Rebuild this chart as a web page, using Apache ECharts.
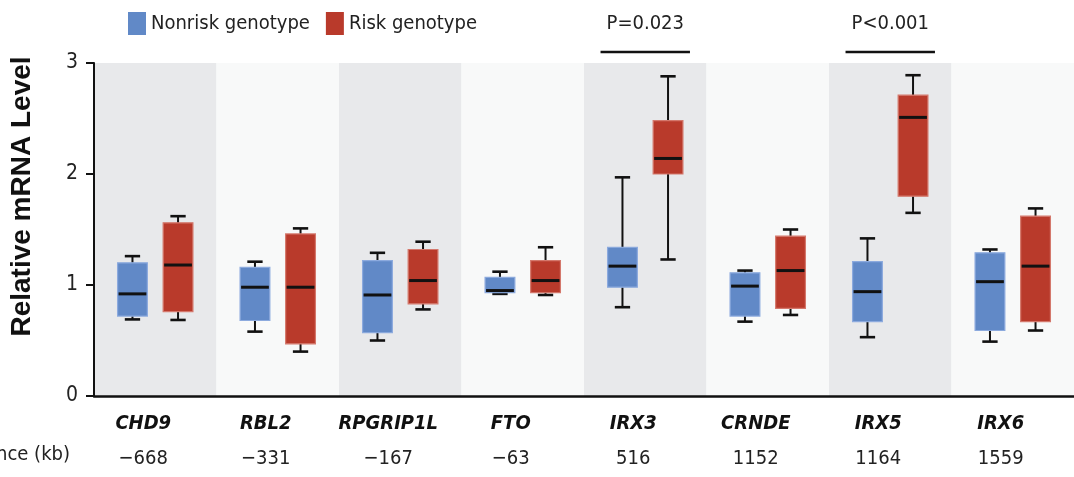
<!DOCTYPE html>
<html>
<head>
<meta charset="utf-8">
<script src="https://cdn.jsdelivr.net/npm/echarts@6/dist/echarts.min.js"></script>
<style>
  html, body { margin: 0; padding: 0; background: #fff; }
  #chart { width: 1074px; height: 477px; }
</style>
</head>
<body>
<div id="chart"></div>
<script>
  // genes in genomic order, distance from the risk SNP in kb
  const genes = ['CHD9', 'RBL2', 'RPGRIP1L', 'FTO', 'IRX3', 'CRNDE', 'IRX5', 'IRX6'];
  const distances = ['\u2212668', '\u2212331', '\u2212167', '\u221263', '516', '1152', '1164', '1559'];

  // [min, q1, median, q3, max]
  const nonrisk = [
    [0.69, 0.72, 0.92, 1.20, 1.26],
    [0.58, 0.68, 0.98, 1.16, 1.21],
    [0.50, 0.57, 0.91, 1.22, 1.29],
    [0.92, 0.93, 0.95, 1.07, 1.12],
    [0.80, 0.98, 1.17, 1.34, 1.97],
    [0.67, 0.72, 0.99, 1.11, 1.13],
    [0.53, 0.67, 0.94, 1.21, 1.42],
    [0.49, 0.59, 1.03, 1.29, 1.32]
  ];
  const risk = [
    [0.685, 0.76, 1.18, 1.56, 1.62],
    [0.40, 0.47, 0.98, 1.46, 1.51],
    [0.78, 0.83, 1.04, 1.32, 1.39],
    [0.91, 0.93, 1.04, 1.22, 1.34],
    [1.23, 2.00, 2.14, 2.48, 2.88],
    [0.73, 0.79, 1.13, 1.44, 1.50],
    [1.65, 1.80, 2.51, 2.71, 2.89],
    [0.59, 0.67, 1.17, 1.62, 1.69]
  ];

  const pGenes = ['IRX3', 'IRX5'];
  const pLabels = ['P=0.023', 'P<0.001'];

  const yTicks = [0, 1, 2, 3];

  const narrow = '"DejaVu Sans Condensed", "Liberation Sans", sans-serif';
  const BLUE = '#6189c7';
  const RED = '#b93a2b';

  function boxRenderer(shift, fill, edge) {
    return function (params, api) {
      const band = api.size([1, 0])[0];
      const x = api.coord([api.value(0), 0])[0] + band * shift;
      const w = band * 0.243;
      const cap = band * 0.125;
      const y = [1, 2, 3, 4, 5].map(d => api.coord([0, api.value(d)])[1]);
      const whisk = { stroke: '#111', lineWidth: 2 };
      const capStyle = { stroke: '#111', lineWidth: 2.6 };
      return {
        type: 'group',
        children: [
          { type: 'line', shape: { x1: x, y1: y[4], x2: x, y2: y[3] }, style: whisk },
          { type: 'line', shape: { x1: x, y1: y[0], x2: x, y2: y[1] }, style: whisk },
          { type: 'line', shape: { x1: x - cap / 2, y1: y[4], x2: x + cap / 2, y2: y[4] }, style: capStyle },
          { type: 'line', shape: { x1: x - cap / 2, y1: y[0], x2: x + cap / 2, y2: y[0] }, style: capStyle },
          { type: 'rect', shape: { x: x - w / 2, y: y[3], width: w, height: y[1] - y[3] },
            style: { fill: fill, stroke: edge, lineWidth: 1.2 } },
          { type: 'line', shape: { x1: x - w / 2 + 1, y1: y[2], x2: x + w / 2 - 1, y2: y[2] },
            style: { stroke: '#111', lineWidth: 3 } }
        ]
      };
    };
  }

  const chart = echarts.init(document.getElementById('chart'), null, { renderer: 'canvas' });

  chart.setOption({
    animation: false,
    backgroundColor: '#fff',
    grid: { left: 93, top: 63, width: 988, bottom: 81, containLabel: false },
    legend: {
      left: 128, top: 12, padding: 0,
      itemWidth: 18, itemHeight: 23, itemGap: 16,
      icon: 'rect',
      data: ['Nonrisk genotype', 'Risk genotype'],
      textStyle: { fontFamily: narrow, fontSize: 20, color: '#222' }
    },
    xAxis: {
      type: 'category',
      data: genes,
      axisLine: { lineStyle: { color: '#111', width: 2.5 } },
      axisTick: { show: false },
      splitArea: { show: true, interval: 0, areaStyle: { color: ['#e8e9eb', '#f8f9f9'] } },
      axisLabel: {
        interval: 0,
        margin: 10,
        padding: [0, 24, 0, 0],
        formatter: (v, i) => '{g|' + v + '}\n{d|' + distances[i] + '}',
        rich: {
          g: { fontFamily: narrow, fontSize: 20, fontWeight: 'bold', fontStyle: 'italic', color: '#111', lineHeight: 35 },
          d: { fontFamily: narrow, fontSize: 20, color: '#222', lineHeight: 35 }
        }
      }
    },
    yAxis: {
      type: 'value',
      min: yTicks[0], max: yTicks[yTicks.length - 1], interval: 1,
      name: 'Relative mRNA Level',
      nameLocation: 'middle',
      nameGap: 58,
      nameTextStyle: {
        fontFamily: '"Liberation Sans", Arial, sans-serif',
        fontSize: 28, fontWeight: 'bold', color: '#111',
        padding: [0, 0, 0, 66]
      },
      axisLine: { show: true, lineStyle: { color: '#111', width: 2 } },
      axisTick: { show: true, length: 8, lineStyle: { color: '#111', width: 2 } },
      axisLabel: { margin: 16, fontFamily: narrow, fontSize: 21, color: '#222' },
      splitLine: { show: false }
    },
    graphic: [
      {
        type: 'text', right: 1074 - 70, top: 445,
        style: { text: 'Distance (kb)', fontFamily: narrow, fontSize: 20, fill: '#222' }
      }
    ],
    series: [
      {
        name: 'Nonrisk genotype',
        type: 'custom',
        itemStyle: { color: BLUE },
        encode: { x: 0, y: [1, 2, 3, 4, 5] },
        data: nonrisk.map((v, i) => [i].concat(v)),
        renderItem: boxRenderer(-0.186, BLUE, '#8caade'),
        z: 3
      },
      {
        name: 'Risk genotype',
        type: 'custom',
        itemStyle: { color: RED },
        encode: { x: 0, y: [1, 2, 3, 4, 5] },
        data: risk.map((v, i) => [i].concat(v)),
        renderItem: boxRenderer(0.186, RED, '#d4786c'),
        z: 3
      },
      {
        name: 'p',
        type: 'custom',
        clip: false,
        silent: true,
        encode: { x: 0, y: 1 },
        data: pGenes.map((g, k) => [genes.indexOf(g), 3.1, pLabels[k]]),
        renderItem: function (params, api) {
          const band = api.size([1, 0])[0];
          const pt = api.coord([api.value(0), api.value(1)]);
          const half = band * 0.365;
          return {
            type: 'group',
            children: [
              { type: 'line', shape: { x1: pt[0] - half, y1: pt[1], x2: pt[0] + half, y2: pt[1] },
                style: { stroke: '#111', lineWidth: 2.5 } },
              { type: 'text', style: {
                  text: pLabels[params.dataIndex], x: pt[0], y: pt[1] - 28,
                  align: 'center', verticalAlign: 'middle',
                  fontFamily: narrow, fontSize: 20, fill: '#222' } }
            ]
          };
        }
      }
    ]
  });
</script>
</body>
</html>
